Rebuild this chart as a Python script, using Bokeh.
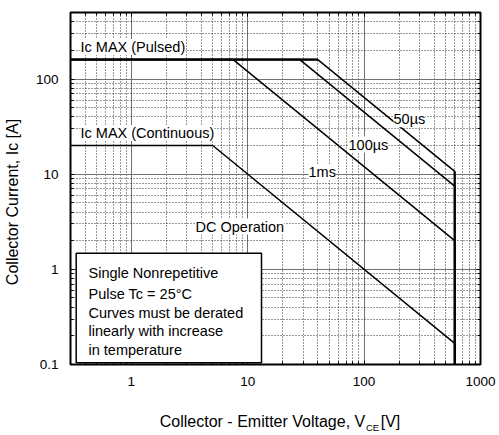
import math
from bokeh.plotting import figure
from bokeh.models import FixedTicker, LogAxis, Label, BoxAnnotation
from bokeh.embed import file_html
from bokeh.resources import INLINE

# ---------------- data ----------------
x_range = (0.3, 1000)
y_range = (0.1, 500)

x_ticks = [1, 10, 100, 1000]
x_tick_labels = ["1", "10", "100", "1000"]
y_ticks = [0.1, 1, 10, 100]
y_tick_labels = ["0.1", "1", "10", "100"]

x_minor = [0.4, 0.5, 0.6, 0.7, 0.8, 0.9,
           2, 3, 4, 5, 6, 7, 8, 9,
           20, 30, 40, 50, 60, 70, 80, 90,
           200, 300, 400, 500, 600, 700, 800, 900]
y_minor = [0.2, 0.3, 0.4, 0.5, 0.6, 0.7, 0.8, 0.9,
           2, 3, 4, 5, 6, 7, 8, 9,
           20, 30, 40, 50, 60, 70, 80, 90,
           200, 300, 400, 500]

ic_pulsed = 160
ic_cont = 20

vce_dc = [0.3, 5, 600, 600]
ic_dc = [20, 20, 0.167, 0.1]
vce_1ms = [0.3, 7.5, 600, 600]
ic_1ms = [160, 160, 2.0, 0.1]
vce_100us = [0.3, 28, 600, 600]
ic_100us = [160, 160, 7.5, 0.1]
vce_50us = [0.3, 40, 600, 600]
ic_50us = [160, 160, 10.7, 0.1]

curve_names = ["Ic MAX (Pulsed)", "Ic MAX (Continuous)", "50µs", "100µs", "1ms", "DC Operation"]
note_lines = ["Single Nonrepetitive", "Pulse Tc = 25°C", "Curves must be derated",
              "linearly with increase", "in temperature"]
x_title = "Collector - Emitter Voltage, V"
x_title_sub = "CE"
x_title_unit = "[V]"
y_title = "Collector Current, Ic [A]"

# ---------------- layout ----------------
W, H = 499, 435
FL, FR, FT, FB = 70, 480, 12, 364   # frame edges in pixels

def xd(px):
    a, b = math.log10(x_range[0]), math.log10(x_range[1])
    return 10 ** (a + (px - FL) / (FR - FL) * (b - a))

def yd(py):
    a, b = math.log10(y_range[0]), math.log10(y_range[1])
    return 10 ** (a + (FB - py) / (FB - FT) * (b - a))

p = figure(width=W, height=H, x_axis_type="log", y_axis_type="log",
           x_range=x_range, y_range=y_range, output_backend="svg",
           toolbar_location=None,
           min_border_left=FL, min_border_right=W - FR,
           min_border_top=FT, min_border_bottom=H - FB)
p.background_fill_color = "white"
p.border_fill_color = "white"
p.outline_line_color = "black"
p.outline_line_width = 2

FONT = "Liberation Sans"

def style_axis(ax, ticks, minor, labels, show_labels=True):
    ax.ticker = FixedTicker(ticks=ticks, minor_ticks=minor)
    ax.axis_line_color = None
    ax.major_tick_in = 4
    ax.major_tick_out = 0
    ax.minor_tick_in = 3
    ax.minor_tick_out = 0
    ax.major_tick_line_color = "black"
    ax.minor_tick_line_color = "black"
    ax.major_label_text_font = FONT
    ax.major_label_text_color = "black"
    if show_labels:
        ax.major_label_overrides = {t: l for t, l in zip(ticks, labels)}
        ax.major_label_text_font_size = "13.5px"
        ax.major_label_standoff = 12
    else:
        ax.major_label_overrides = {t: "" for t in ticks}
        ax.major_label_text_font_size = "0px"
        ax.major_label_standoff = 0

style_axis(p.xaxis[0], x_ticks, x_minor, x_tick_labels)
style_axis(p.yaxis[0], y_ticks, y_minor, y_tick_labels)

top_ax = LogAxis()
right_ax = LogAxis()
style_axis(top_ax, x_ticks, x_minor, x_tick_labels, show_labels=False)
style_axis(right_ax, y_ticks, y_minor, y_tick_labels, show_labels=False)
p.add_layout(top_ax, "above")
p.add_layout(right_ax, "right")

# title axes (text placed as tick labels so it is not clipped)
def title_axis(pos_list, texts, size, standoff, vertical=False):
    ax = LogAxis(ticker=FixedTicker(ticks=pos_list, minor_ticks=[]))
    ax.major_label_overrides = {t: s for t, s in zip(pos_list, texts)}
    ax.axis_line_color = None
    ax.major_tick_line_color = None
    ax.minor_tick_line_color = None
    ax.major_tick_in = 0
    ax.major_tick_out = 0
    ax.minor_tick_in = 0
    ax.minor_tick_out = 0
    ax.major_label_text_font = FONT
    ax.major_label_text_font_size = size
    ax.major_label_text_color = "black"
    ax.major_label_standoff = standoff
    if vertical:
        ax.major_label_orientation = "vertical"
    return ax

# subscript row first, main title row after it (pulled back up, zero extent)
xs_pos = [xd(372)]
p.add_layout(title_axis(xs_pos, [x_title_sub], "9.5px", 33), "below")
xt_pos = [xd(262), xd(390)]
p.add_layout(title_axis(xt_pos, [x_title, x_title_unit], "16px", -23), "below")
yt_pos = [yd(201.5)]
p.add_layout(title_axis(yt_pos, [y_title], "16px", 12, vertical=True), "left")

for g in (p.xgrid[0], p.ygrid[0]):
    g.grid_line_color = "#707070"
    g.grid_line_width = 1
    g.minor_grid_line_color = "black"
    g.minor_grid_line_width = 1
    g.minor_grid_line_dash = "1 2"
    g.minor_grid_line_alpha = 0.8

# ---------------- curves ----------------
for xs, ys in [(vce_dc, ic_dc), (vce_1ms, ic_1ms), (vce_100us, ic_100us), (vce_50us, ic_50us)]:
    p.line(xs, ys, line_color="black", line_width=1.5)

# heavier limits (pulsed Ic max and 600 V drop)
p.line([vce_50us[0], vce_50us[1]], [ic_pulsed, ic_pulsed], line_color="black", line_width=2.2)
p.line([vce_50us[2], vce_50us[3]], [ic_50us[2], ic_50us[3]], line_color="black", line_width=2.2)

# ---------------- labels ----------------
def add_label(text, px, py, size="14.5px", align="left", bg=True):
    kw = dict(x=xd(px), y=yd(py), text=text, text_font=FONT, text_font_size=size,
              text_align=align, text_baseline="middle", text_color="black")
    if bg:
        kw["background_fill_color"] = "white"
    p.add_layout(Label(**kw))

label_pos = [(80, 46.5), (80, 132.5), (393, 118.7), (348, 144), (308, 171.7), (195, 226)]
for name, (px, py) in zip(curve_names, label_pos):
    add_label(name, px, py)

# note box
p.add_layout(BoxAnnotation(left=xd(75.7), right=xd(261), top=yd(252.7), bottom=yd(362.3),
                           fill_color="white", fill_alpha=1.0,
                           line_color="black", line_width=1.5, line_alpha=1.0))
note_y = [272.5, 293.5, 312, 330.5, 349]
for line, py in zip(note_lines, note_y):
    add_label(line, 88, py, bg=False)

open("out.html", "w").write(file_html(p, INLINE))
